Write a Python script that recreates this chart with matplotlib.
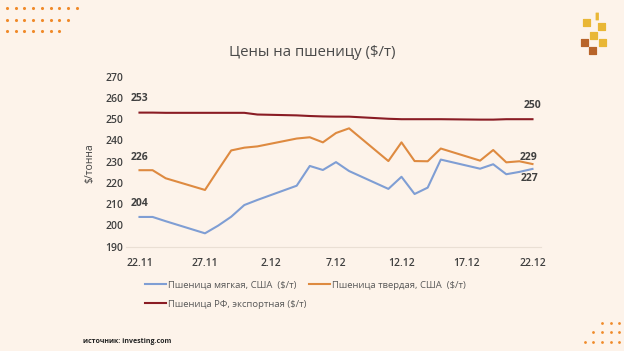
import matplotlib.pyplot as plt
from matplotlib.patches import FancyBboxPatch

# trading days, counted from 22.11
days = [0, 1, 2, 5, 6, 7, 8, 9, 12, 13, 14, 15, 16, 19, 20, 21, 22, 23, 26, 27, 28, 29, 30]

soft_us = [204, 204, 202, 196.3, 199.9, 204.1, 209.6, 212, 218.7, 228, 226.1, 229.8,
           225.6, 217.2, 222.9, 214.8, 217.8, 231, 226.7, 228.8, 224.1, 225.2, 226.6]
hard_us = [226, 226, 222.2, 216.7, 226.1, 235.3, 236.6, 237.2, 240.9, 241.5, 239.1, 243.5,
           245.7, 230.3, 239.1, 230.3, 230.2, 236.2, 230.5, 235.5, 229.7, 230.2, 228.9]
ru_export = [253.1, 253.1, 253, 253, 253, 253, 253, 252.2, 251.8, 251.5, 251.3, 251.2,
             251.2, 250.2, 250, 250, 250, 250, 249.8, 249.8, 250, 250, 250]

tick_days = [0, 5, 10, 15, 20, 25, 30]
tick_labels = ["22.11", "27.11", "2.12", "7.12", "12.12", "17.12", "22.12"]

names = ["Пшеница мягкая, США  ($/т)", "Пшеница твердая, США  ($/т)",
         "Пшеница РФ, экспортная ($/т)"]

bg = "#FDF3EA"
c_blue = "#7F9ED4"
c_orange = "#DE8A40"
c_red = "#8A1C24"
txt = "#404040"

plt.rcParams["font.family"] = ["Open Sans", "DejaVu Sans"]

fig = plt.figure(figsize=(6.24, 3.51), dpi=100, facecolor=bg)

# decorations (pixel coordinates)
deco = fig.add_axes([0, 0, 1, 1], zorder=-1)
deco.set_xlim(0, 624)
deco.set_ylim(351, 0)
deco.axis("off")
deco.set_facecolor(bg)

for row, n in enumerate([9, 8, 7]):
    xs = [7 + 8.7 * i for i in range(n)]
    deco.scatter(xs, [8 + 11.5 * row] * n, s=5, color="#F08A2A", lw=0)
for row, n in enumerate([3, 4, 5]):
    xs = [619.3 - 8.7 * i for i in range(n)]
    deco.scatter(xs, [322.7 + 9.5 * row] * n, s=4, color="#F08A2A", lw=0)

# wheat logo
for (x, y, c) in [(587, 23, "#E9B736"), (602, 27, "#E9B736"), (594, 36, "#E9B736"),
                  (603, 43, "#E9B736"), (585, 43, "#B8642A"), (593, 51, "#B8642A")]:
    deco.add_patch(FancyBboxPatch((x - 3.5, y - 3.5), 7, 7, boxstyle="round,pad=0.6",
                                  color=c, lw=0))
deco.add_patch(FancyBboxPatch((596, 13), 2.5, 7, boxstyle="round,pad=0.4",
                              color="#E9B736", lw=0))

fig.text(312, 351 - 52, "Цены на пшеницу ($/т)", transform=None, fontsize=10.8,
         color="#4A4A4A", ha="center", va="center")

ax = fig.add_axes([126 / 624, 1 - 246.7 / 351, 415 / 624, 170 / 351])
ax.set_facecolor("none")

l1, = ax.plot(days, soft_us, color=c_blue, lw=1.5)
l2, = ax.plot(days, hard_us, color=c_orange, lw=1.5)
l3, = ax.plot(days, ru_export, color=c_red, lw=1.5)

ax.set_xlim(-1.03, 30.65)
ax.set_ylim(190, 270)
ax.set_yticks(range(190, 271, 10))
ax.set_xticks(tick_days)
ax.set_xticklabels(tick_labels)

ax.tick_params(length=0, labelsize=7.5, labelcolor=txt)
ax.tick_params(axis="x", pad=8)
ax.tick_params(axis="y", pad=2)
for lab in ax.get_xticklabels() + ax.get_yticklabels():
    lab.set_fontweight("semibold")

for s in ["top", "right", "left"]:
    ax.spines[s].set_visible(False)
ax.spines["bottom"].set_color("#EADFD4")
ax.spines["bottom"].set_linewidth(0.8)

ax.set_ylabel("$/тонна", fontsize=7.5, color=txt)
ax.yaxis.set_label_coords(-0.075, 0.49)

# value labels at the start and the end
for series, dy in [(soft_us, 13), (hard_us, 13), (ru_export, 14)]:
    ax.annotate(f"{series[0]:.0f}", (days[0], series[0]), xytext=(0, dy),
                textcoords="offset pixels", ha="center", va="center",
                fontsize=7.5, fontweight="bold", color=txt)
for series, dx, dy in [(soft_us, -3, -10), (hard_us, -4, 7), (ru_export, 0, 13.5)]:
    ax.annotate(f"{series[-1]:.0f}", (days[-1], series[-1]), xytext=(dx, dy),
                textcoords="offset pixels", ha="center", va="center",
                fontsize=7.5, fontweight="bold", color=txt)

fig.legend([l1, l3, l2], [names[0], names[2], names[1]], ncol=2,
           loc="upper left", bbox_to_anchor=(140 / 624, 1 - 276 / 351),
           frameon=False, fontsize=6.8, labelcolor="#595959", borderpad=0,
           handlelength=2.3, handletextpad=0.2, columnspacing=0.2,
           labelspacing=1.05)

fig.text(83, 351 - 341.5, "источник: investing.com", transform=None, fontsize=5,
         fontweight="bold", color="#222222", va="center")

plt.savefig("out.png", dpi=100, facecolor=bg)
